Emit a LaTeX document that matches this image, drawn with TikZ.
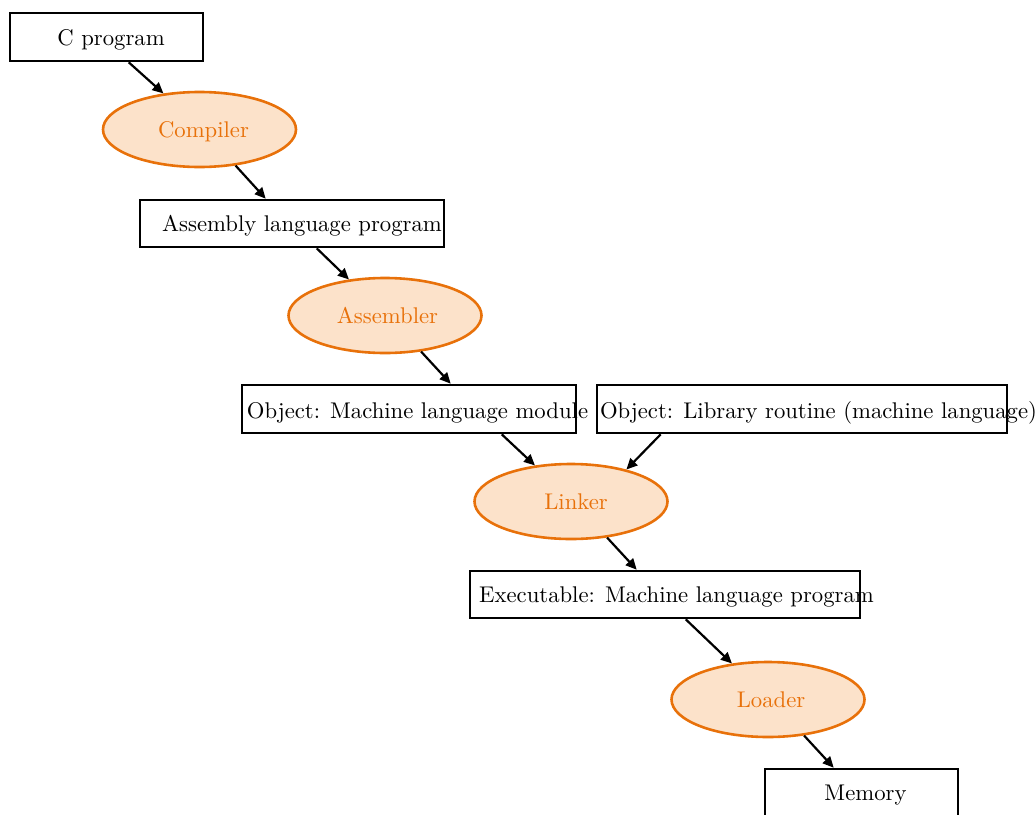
\documentclass[tikz,border=0pt]{standalone}
\usetikzlibrary{shapes.geometric,arrows.meta}
\definecolor{ornge}{RGB}{232,113,10}
\definecolor{peach}{RGB}{252,226,202}
\newcommand{\bigtxt}[1]{\scalebox{2.27}{#1}}
\begin{document}
\begin{tikzpicture}[x=1pt,y=-1pt,
  box/.style={draw=black,line width=2.6pt,fill=white,inner sep=0pt,minimum height=48pt},
  proc/.style={ellipse,draw=ornge,fill=peach,line width=2.6pt,inner sep=0pt,minimum width=193pt,minimum height=75pt},
  lbl/.style={anchor=base,inner sep=0pt,font=\fontsize{10}{12}\selectfont},
  plbl/.style={lbl,text=ornge},
  arr/.style={line width=2.2pt,-{Triangle[length=11pt,width=10pt]}}]
\useasboundingbox (0,0) rectangle (1035,814);
% boxes
\node[box,minimum width=193pt] (cprog) at (106.5,37) {};
\node[box,minimum width=304pt,minimum height=47pt] (asm) at (292,223.5) {};
\node[box,minimum width=334pt] (objml) at (409,409) {};
\node[box,minimum width=410pt] (objlib) at (802,409) {};
\node[box,minimum width=390pt,minimum height=47pt] (exe) at (665,594.5) {};
\node[box,minimum width=193pt] (mem) at (861.5,793) {};
% ellipses
\node[proc] (compiler) at (199.5,129.5) {};
\node[proc] (assembler) at (385,315.5) {};
\node[proc] (linker) at (571,501.5) {};
\node[proc] (loader) at (768,699.5) {};
% labels
\node[lbl] (tcprog) at (111,45) {\bigtxt{C program}};
\node[lbl] (tasm) at (302,231.5) {\bigtxt{Assembly language program}};
\node[lbl] (tobjml) at (417.5,418.5) {\bigtxt{Object: Machine language module}};
\node[lbl] (tobjlib) at (818.5,418.5) {\bigtxt{Object: Library routine (machine language)}};
\node[lbl] (texe) at (676.5,602.5) {\bigtxt{Executable: Machine language program}};
\node[lbl] (tmem) at (865.5,800) {\bigtxt{Memory}};
\node[plbl] (tcompiler) at (203.5,137) {\bigtxt{Compiler}};
\node[plbl] (tassembler) at (387.5,323) {\bigtxt{Assembler}};
\node[plbl] (tlinker) at (576,509) {\bigtxt{Linker}};
\node[plbl] (tloader) at (771,707) {\bigtxt{Loader}};
% connectors
\draw[arr] ([xshift=120pt]cprog.south west) -- (compiler.135);
\draw[arr] (compiler.-45) -- ([xshift=127pt]asm.north west);
\draw[arr] ([xshift=178pt]asm.south west) -- (assembler.135);
\draw[arr] (assembler.-45) -- ([xshift=210pt]objml.north west);
\draw[arr] ([xshift=261pt]objml.south west) -- (linker.135);
\draw[arr] ([xshift=65pt]objlib.south west) -- (linker.30);
\draw[arr] (linker.-45) -- ([xshift=168pt]exe.north west);
\draw[arr] ([xshift=217pt]exe.south west) -- (loader.135);
\draw[arr] (loader.-45) -- ([xshift=70pt]mem.north west);
\end{tikzpicture}
\end{document}
